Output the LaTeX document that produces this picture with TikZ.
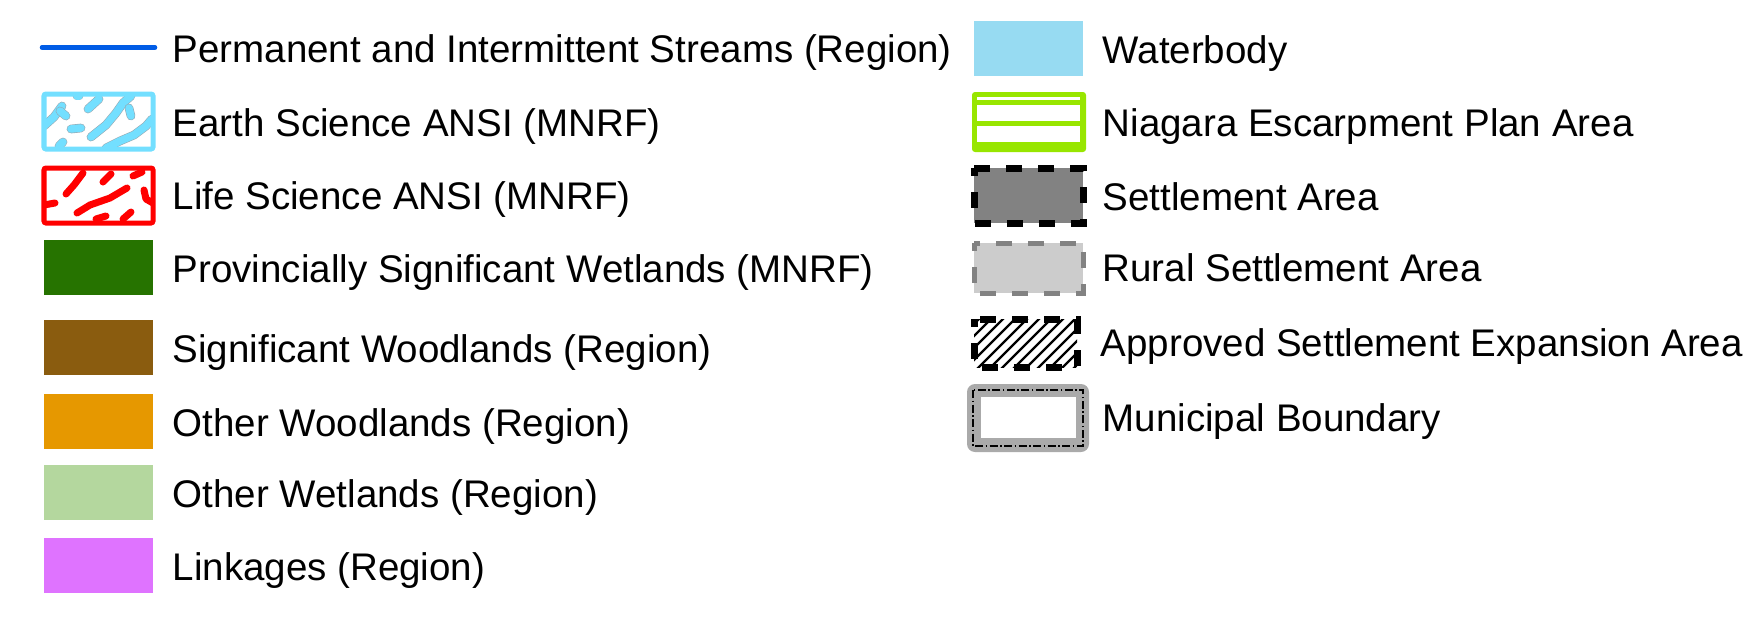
\documentclass[tikz,border=0pt]{standalone}
\usepackage{fontspec}
\setmainfont{Liberation Sans}
\usepackage{tikz}
\usepackage{xcolor}
\definecolor{streamblue}{RGB}{0, 92, 230}
\definecolor{earthcyan}{RGB}{115, 223, 255}
\definecolor{blobgray}{RGB}{150, 170, 180}
\definecolor{lifered}{RGB}{255, 0, 0}
\definecolor{pswgreen}{RGB}{38, 115, 0}
\definecolor{woodbrown}{RGB}{138, 92, 15}
\definecolor{woodorange}{RGB}{230, 152, 0}
\definecolor{wetgreen}{RGB}{180, 215, 158}
\definecolor{linkpink}{RGB}{223, 115, 255}
\definecolor{waterblue}{RGB}{151, 219, 242}
\definecolor{nepgreen}{RGB}{152, 230, 0}
\definecolor{settlegray}{RGB}{130, 130, 130}
\definecolor{ruralgray}{RGB}{204, 204, 204}
\definecolor{munigray}{RGB}{170, 170, 170}

\begin{document}
\begin{tikzpicture}[x=0.01cm,y=-0.01cm,
    legtext/.style={anchor=base west,inner sep=0pt,font=\fontsize{10.95pt}{13pt}\selectfont},
    eblob/.style={draw=blobgray,double=earthcyan,line width=0.006cm,double distance=0.075cm,line cap=round,line join=round},
    lblob/.style={draw=lifered,line width=0.07cm,line cap=round,line join=round},
    setdash/.style={line width=0.07cm,dash pattern=on 0.16cm off 0.16cm,dash phase=0.08cm}]
    \useasboundingbox (0,0) rectangle (1752,621);

    % left column
    \draw[streamblue,line width=0.045cm,line cap=round] (42,47.5) -- (155,47.5);
    \node[legtext] (stream) at (172,62) {Permanent and Intermittent Streams (Region)};

    \begin{scope}
        \clip (44,94) rectangle (153,149);
        \draw[eblob] (44,126) -- (54,117) -- (62,106);
        \draw[eblob] (60,111) -- (66,116);
        \draw[eblob] (71,129) -- (81,128);
        \draw[eblob] (88,109) -- (99,99);
        \draw[eblob] (77,96) -- (79,96);
        \draw[eblob] (91,137) -- (106,125) -- (116,113) -- (123,103) -- (131,96);
        \draw[eblob] (129,108) -- (131,116);
        \draw[eblob] (106,148) -- (120,141) -- (134,135) -- (146,126) -- (152,119);
        \draw[eblob] (59,146) -- (63,142);
    \end{scope}
    \draw[earthcyan,line width=0.05cm,rounded corners=0.02cm] (44,94) rectangle (153,149);
    \node[legtext] (earth) at (172,136) {Earth Science ANSI (MNRF)};

    \begin{scope}
        \clip (44,168) rectangle (153,223);
        \draw[lblob] (44,205) -- (55,203);
        \draw[lblob] (66,194) -- (74,185) -- (83,173);
        \draw[lblob] (103,182) -- (111,174);
        \draw[lblob] (133,176) -- (142,172);
        \draw[lblob] (77,213) -- (90,205) -- (110,198) -- (127,188);
        \draw[lblob] (144,190) -- (146,199) -- (153,203);
        \draw[lblob] (96,219) -- (106,216);
        \draw[lblob] (123,219) -- (131,212);
    \end{scope}
    \draw[lifered,line width=0.05cm,rounded corners=0.02cm] (44,168) rectangle (153,223);
    \node[legtext] (life) at (172,209) {Life Science ANSI (MNRF)};

    \fill[pswgreen] (44,240) rectangle (153,295);
    \node[legtext] (psw) at (172,282) {Provincially Significant Wetlands (MNRF)};

    \fill[woodbrown] (44,320) rectangle (153,375);
    \node[legtext] (sigwood) at (172,362) {Significant Woodlands (Region)};

    \fill[woodorange] (44,394) rectangle (153,449);
    \node[legtext] (othwood) at (172,436) {Other Woodlands (Region)};

    \fill[wetgreen] (44,465) rectangle (153,520);
    \node[legtext] (othwet) at (172,507) {Other Wetlands (Region)};

    \fill[linkpink] (44,538) rectangle (153,593);
    \node[legtext] (link) at (172,580) {Linkages (Region)};

    % right column
    \fill[waterblue] (974,21) rectangle (1083,76);
    \node[legtext] (water) at (1102,63) {Waterbody};

    \fill[nepgreen,rounded corners=0.03cm] (972,92) rectangle (1086,152);
    \fill[white] (977,97.3) rectangle (1080,99.5);
    \fill[white] (977,105) rectangle (1080,121);
    \fill[white] (977,126) rectangle (1080,142);
    \node[legtext] (nep) at (1102,136) {Niagara Escarpment Plan Area};

    \fill[settlegray] (974,168) rectangle (1083,223);
    \draw[setdash] (974,168) rectangle (1083,223);
    \node[legtext] (settle) at (1102,210) {Settlement Area};

    \fill[ruralgray] (974,243) rectangle (1083,293);
    \draw[settlegray,line width=0.05cm,dash pattern=on 0.16cm off 0.16cm,dash phase=0.08cm] (974,243) rectangle (1083,293);
    \node[legtext] (rural) at (1102,281) {Rural Settlement Area};

    \begin{scope}
        \clip (974,319) rectangle (1077,367);
        \foreach \hx in {914,926,...,1082}
            \draw[line width=0.022cm] (\hx,372) -- ++(60,-60);
    \end{scope}
    \draw[setdash] (974,319) rectangle (1077,367);
    \node[legtext] (approved) at (1100,356) {Approved Settlement Expansion Area};

    \fill[munigray,rounded corners=0.08cm] (967,384) rectangle (1089,452);
    \fill[white] (981,397) rectangle (1076,438);
    \draw[line width=0.012cm,dash pattern=on 0.08cm off 0.025cm on 0.015cm off 0.025cm] (973,390) rectangle (1083,446);
    \node[legtext] (muni) at (1102,431) {Municipal Boundary};
\end{tikzpicture}
\end{document}
